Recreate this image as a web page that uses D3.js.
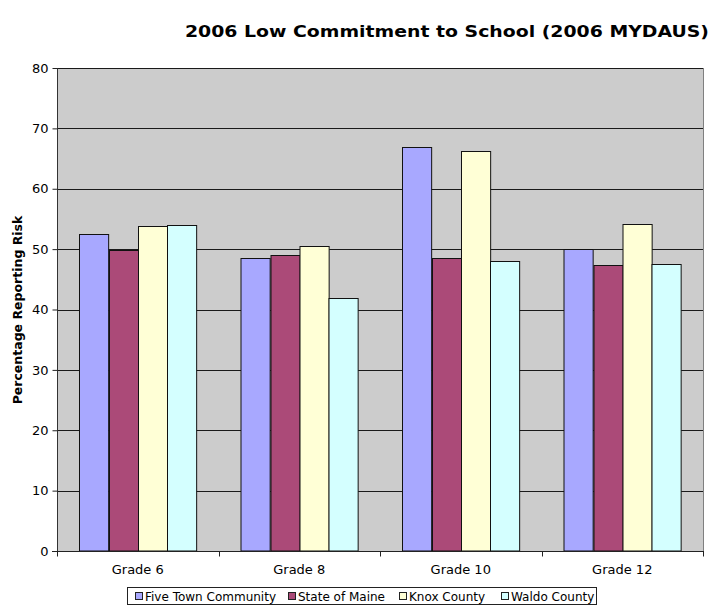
<!DOCTYPE html>
<html>
<head>
<meta charset="utf-8">
<script src="https://cdn.jsdelivr.net/npm/d3@7"></script>
<style>
  html, body { margin: 0; padding: 0; background: #fff; }
  svg { display: block; }
</style>
</head>
<body>
<svg id="chart" width="711" height="605"></svg>
<script>
// Chart data
const grades = ["Grade 6", "Grade 8", "Grade 10", "Grade 12"];
const seriesNames = ["Five Town Community", "State of Maine", "Knox County", "Waldo County"];
const fiveTown = [52.5, 48.6, 66.9, 50.0];
const stateOfMaine = [49.8, 49.1, 48.6, 47.4];
const knoxCounty = [53.8, 50.5, 66.3, 54.1];
const waldoCounty = [54.0, 41.9, 48.0, 47.6];
const yTicks = [0, 10, 20, 30, 40, 50, 60, 70, 80];

const seriesValues = [fiveTown, stateOfMaine, knoxCounty, waldoCounty];
const colors = ["#a8a8ff", "#ab4a78", "#ffffd6", "#d4ffff"];

const svg = d3.select("#chart");
const font = "Verdana, 'DejaVu Sans', sans-serif";

const plot = { left: 57, right: 703, top: 68, bottom: 551 };

const x0 = d3.scaleBand().domain(grades).range([plot.left, plot.right]).paddingInner(0).paddingOuter(0);
const x1 = d3.scaleBand().domain(seriesNames).range([0, x0.bandwidth()]).paddingInner(0).paddingOuter(0.77);
const y = d3.scaleLinear().domain([0, 80]).range([plot.bottom, plot.top]);

// Plot background
svg.append("rect")
  .attr("x", plot.left).attr("y", plot.top)
  .attr("width", plot.right - plot.left).attr("height", plot.bottom - plot.top)
  .attr("fill", "#cccccc");

// Gridlines
svg.append("g")
  .selectAll("line")
  .data(yTicks.filter(d => d > 0))
  .join("line")
  .attr("x1", plot.left).attr("x2", plot.right)
  .attr("y1", d => Math.round(y(d)) + 0.5).attr("y2", d => Math.round(y(d)) + 0.5)
  .attr("stroke", "#1a1a1a").attr("stroke-width", 1);

// Plot border (right side)
svg.append("line")
  .attr("x1", plot.right + 0.5).attr("x2", plot.right + 0.5)
  .attr("y1", plot.top).attr("y2", plot.bottom)
  .attr("stroke", "#808080");

// Bars
const groups = svg.append("g").selectAll("g")
  .data(grades)
  .join("g")
  .attr("transform", d => `translate(${x0(d)},0)`);

groups.selectAll("rect")
  .data((g, gi) => seriesNames.map((s, si) => ({ s, v: seriesValues[si][gi], c: colors[si] })))
  .join("rect")
  .attr("x", d => Math.round(x1(d.s)) + 0.5)
  .attr("y", d => Math.round(y(d.v)) + 0.5)
  .attr("width", x1.bandwidth())
  .attr("height", d => y(0) - Math.round(y(d.v)) - 0.5)
  .attr("fill", d => d.c)
  .attr("stroke", "#111")
  .attr("stroke-width", 1);

// Y axis
const yAxis = svg.append("g")
  .attr("transform", `translate(${plot.left + 0.5},0)`)
  .call(d3.axisLeft(y).tickValues(yTicks).tickSize(5).tickPadding(4));
yAxis.select(".domain").attr("stroke", "#333").attr("d", `M0,${plot.top}V${plot.bottom}`);
yAxis.selectAll(".tick line").attr("stroke", "#222");
yAxis.selectAll("text").attr("font-family", font).attr("font-size", 13).attr("fill", "#000");

// X axis with ticks at category boundaries
const xAxisG = svg.append("g").attr("transform", `translate(0,${plot.bottom + 0.5})`);
xAxisG.append("line")
  .attr("x1", plot.left - 5).attr("x2", plot.right + 1)
  .attr("stroke", "#222");
const boundaries = grades.map(g => x0(g)).concat([plot.right]);
xAxisG.selectAll(".bt")
  .data(boundaries)
  .join("line")
  .attr("class", "bt")
  .attr("x1", d => Math.round(d) + 0.5).attr("x2", d => Math.round(d) + 0.5)
  .attr("y1", 0).attr("y2", 5)
  .attr("stroke", "#222");
xAxisG.selectAll("text")
  .data(grades)
  .join("text")
  .attr("x", d => x0(d) + x0.bandwidth() / 2)
  .attr("y", 22)
  .attr("text-anchor", "middle")
  .attr("font-family", font).attr("font-size", 13)
  .text(d => d);

// Title
svg.append("text")
  .attr("x", 709).attr("y", 37)
  .attr("text-anchor", "end")
  .attr("font-family", font).attr("font-weight", "bold").attr("font-size", 15)
  .attr("textLength", 524).attr("lengthAdjust", "spacingAndGlyphs")
  .text("2006 Low Commitment to School (2006 MYDAUS)");

// Y axis title
svg.append("text")
  .attr("transform", "translate(22,310) rotate(-90)")
  .attr("text-anchor", "middle")
  .attr("font-family", font).attr("font-weight", "bold").attr("font-size", 12.5)
  .text("Percentage Reporting Risk");

// Legend: swatch then label, laid out left to right
const legend = svg.append("g");
legend.append("rect")
  .attr("x", 127.5).attr("y", 587.5).attr("width", 469).attr("height", 17)
  .attr("fill", "#fff").attr("stroke", "#222");
const swatchX = [135, 288, 399, 501];
seriesNames.forEach((name, i) => {
  const g = legend.append("g").attr("transform", `translate(${swatchX[i]},0)`);
  g.append("rect")
    .attr("x", 0.5).attr("y", 592.5).attr("width", 7).attr("height", 7)
    .attr("fill", colors[i]).attr("stroke", "#222");
  g.append("text")
    .attr("x", 10).attr("y", 601)
    .attr("font-family", font).attr("font-size", 12)
    .text(name);
});
</script>
</body>
</html>
